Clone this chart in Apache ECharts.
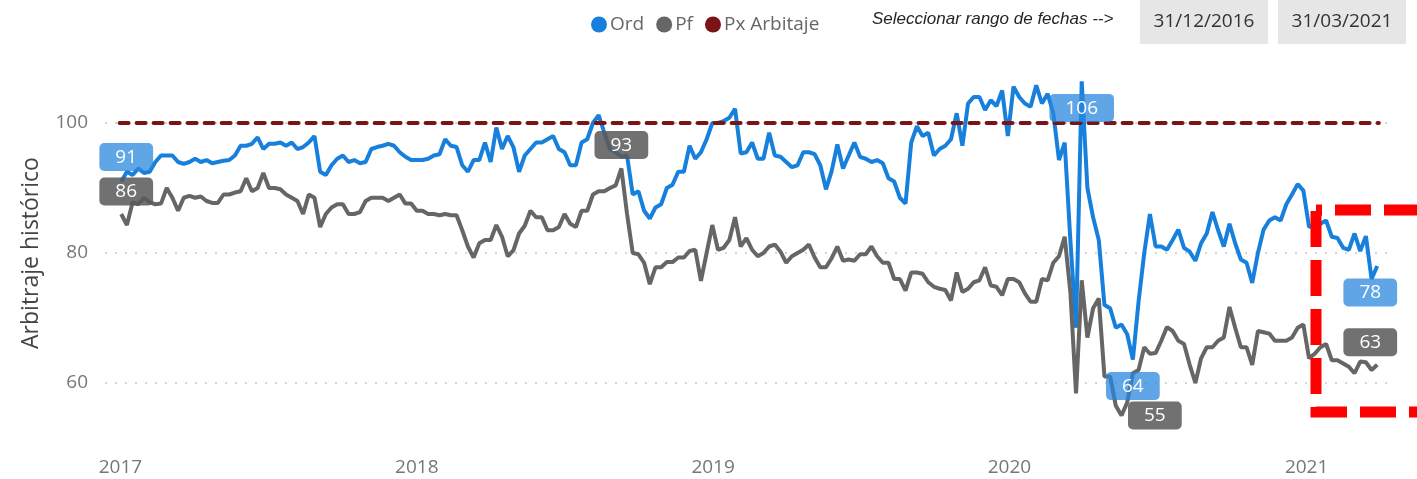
<!DOCTYPE html>
<html>
<head>
<meta charset="utf-8">
<script src="https://cdn.jsdelivr.net/npm/echarts@6/dist/echarts.min.js"></script>
<style>
  html, body { margin: 0; padding: 0; background: #fff; }
  #chart { width: 1417px; height: 479px; }
</style>
</head>
<body>
<div id="chart"></div>
<script>
// weekly readings (Mondays) from 2017-01-02 to 2021-03-29
const weekStart = Date.UTC(2017, 0, 2)

const ordValues = [
  // 2017
  91, 92.5, 92, 93, 92.3, 92.5, 94, 95, 95, 95, 94, 93.7, 94,
  94.5, 94, 94.3, 93.8, 94, 94.2, 94.3, 95, 96.5, 96.5, 96.8, 97.8, 96,
  96.8, 96.8, 97, 96.5, 97, 96, 96.3, 97, 98, 92.5, 92, 93.5, 94.5,
  95, 94, 94.3, 93.8, 94, 96, 96.3, 96.5, 96.8, 96.5, 95.5, 94.8, 94.3,
  // 2018
  94.3, 94.3, 94.5, 95, 95.2, 97.5, 96.5, 96.3, 93.5, 92.5, 94.3, 94.3, 97,
  94, 99.3, 96, 98, 96.3, 92.5, 95, 96, 97, 97, 97.5, 98, 96,
  95.5, 93.5, 93.5, 97, 97.5, 100, 101.2, 98.5, 96, 95.5, 94.8, 95, 89,
  89.5, 86.5, 85.3, 87, 87.5, 90, 90.5, 92.5, 92.5, 96.5, 94.5, 95.5, 97.5, 100,
  // 2019
  100, 100.3, 100.8, 102.2, 95.3, 95.5, 97, 94.5, 94.5, 98.5, 95, 94.8,
  94, 93.2, 93.5, 95.5, 95.5, 95.2, 93.5, 89.8, 92.6, 96.7, 93, 95, 97,
  94.8, 94.5, 94, 94.3, 93.8, 91.5, 91, 88.5, 87.6, 97, 99.5, 98, 98.5, 95,
  96, 96.5, 97.5, 101.5, 96.5, 103, 104, 104, 102, 103.5, 102.6, 105, 98,
  // 2020
  105.6, 104, 103, 102.5, 105.8, 103, 104.5, 101.5, 94.3, 97, 82, 68.5, 106.4,
  90, 85.5, 82, 72, 71.5, 68.5, 69, 67.5, 63.6, 72.5, 80, 86, 81,
  81, 80.5, 82, 83.6, 80.8, 80.2, 78.8, 81.5, 83, 86.3, 83.5, 81, 84.5,
  81.5, 79, 78.5, 75.4, 80, 83.6, 85, 85.5, 85, 87.5, 89, 90.6, 89.6,
  // 2021
  84, 84.3, 84.5, 85, 82.5, 82.3, 80.8, 80.5, 83, 80.3, 82.6, 76, 78
]

const pfValues = [
  // 2017
  86, 84.3, 87.8, 87.5, 88.5, 87.8, 87.5, 87.6, 90, 88.5, 86.5, 88.5, 88.8,
  88.5, 88.7, 88, 87.7, 87.7, 89, 89, 89.3, 89.5, 91.5, 89.5, 90, 92.3,
  90, 90, 89.8, 89, 88.5, 88, 86, 89, 88.5, 84, 86, 87, 87.5,
  87.5, 86, 86, 86.3, 88, 88.5, 88.5, 88.5, 88, 88.5, 89, 87.6, 87.6,
  // 2018
  86.5, 86.5, 86, 86, 85.8, 86, 85.8, 85.8, 83.5, 81, 79.3, 81.5, 82,
  82, 84.3, 82.5, 79.5, 80.4, 83, 84.2, 86.5, 85.5, 85.5, 83.5, 83.5, 84,
  86, 84.5, 84, 86.5, 86.5, 89, 89.5, 89.5, 90, 90.4, 93, 86, 80,
  79.8, 78.5, 75.2, 77.8, 77.8, 78.6, 78.6, 79.3, 79.3, 80.3, 80.5, 75.7, 80, 84.3,
  // 2019
  80.5, 80.8, 82, 85.5, 81, 82.3, 80.5, 79.5, 80, 81, 81.3, 80.2,
  78.5, 79.5, 80, 80.5, 81.3, 79.3, 77.8, 77.8, 79.2, 81, 78.8, 79, 78.8,
  79.8, 79.8, 81, 79.5, 78.5, 78.5, 76, 76, 74.2, 77, 77, 76.8, 75.5, 74.8,
  74.5, 74.3, 72.7, 77, 74, 74.5, 75.5, 75.8, 77.8, 75, 74.8, 73.5, 76,
  // 2020
  76, 75.5, 73.8, 72.5, 72.5, 76, 75.8, 78.5, 79.5, 82.5, 74, 58.4, 75.8,
  67, 71.5, 73, 61, 61, 56.5, 55, 57, 61.5, 62, 65.5, 64.5, 64.6,
  66.5, 68.6, 68, 66.5, 66, 62.8, 60, 63.8, 65.5, 65.5, 66.5, 67, 71.7,
  68.5, 65.5, 65.5, 62.8, 68, 67.8, 67.6, 66.5, 66.5, 66.5, 67, 68.5, 69,
  // 2021
  63.8, 64.5, 65.5, 66, 63.5, 63.5, 63, 62.5, 61.5, 63.3, 63.2, 62, 62.8
]

const pxDates = ['2016-12-31', '2021-03-31']
const pxValues = [100, 100]

const dateRange = ['31/12/2016', '31/03/2021']

const weekDates = ordValues.map((_, i) => weekStart + i * 7 * 86400000)

const FONT = "'Segoe UI', 'Open Sans', sans-serif"
const ORD_COLOR = '#1780dc'
const PF_COLOR = '#666666'
const PX_COLOR = '#7a1416'

// first / last / max / min labels, placed like the original report
function pointLabels(values, places) {
  const n = values.length
  const idx = {
    first: 0,
    last: n - 1,
    max: values.indexOf(Math.max(...values)),
    min: values.indexOf(Math.min(...values))
  }
  return Object.keys(places).map(k => ({
    coord: [weekDates[idx[k]], values[idx[k]]],
    value: Math.round(values[idx[k]]),
    label: places[k]
  }))
}

function labelStyle(bg) {
  return {
    show: true,
    formatter: '{c}',
    color: '#fff',
    fontSize: 19,
    fontFamily: FONT,
    backgroundColor: bg,
    borderRadius: 5,
    padding: [5, 16, 4, 16]
  }
}

const chart = echarts.init(document.getElementById('chart'))

const option = {
  useUTC: true,
  animation: false,
  textStyle: { fontFamily: FONT },
  legend: {
    left: 586,
    top: 10,
    icon: 'circle',
    itemWidth: 16,
    itemHeight: 16,
    itemGap: 12,
    textStyle: { color: '#666', fontSize: 19, fontFamily: FONT, padding: [0, 0, 0, -2] },
    data: ['Ord', 'Pf', 'Px Arbitaje']
  },
  grid: { left: 105, right: 30, top: 58, bottom: 31 },
  xAxis: {
    type: 'time',
    min: Date.UTC(2016, 11, 13),
    max: Date.UTC(2021, 3, 10),
    axisLine: { show: false },
    axisTick: { show: false },
    splitLine: { show: false },
    axisLabel: {
      color: '#777',
      fontSize: 19,
      margin: 10,
      formatter: v => {
        const d = new Date(v)
        return (d.getUTCMonth() === 0 && d.getUTCDate() === 1) ? String(d.getUTCFullYear()) : ''
      }
    }
  },
  yAxis: {
    type: 'value',
    min: 50,
    max: 110,
    interval: 10,
    name: 'Arbitraje histórico',
    nameLocation: 'middle',
    nameGap: 62,
    nameTextStyle: { color: '#444', fontSize: 23, fontFamily: FONT },
    axisLine: { show: false },
    axisTick: { show: false },
    axisLabel: {
      color: '#777',
      fontSize: 19,
      margin: 17,
      formatter: v => (v % 20 === 0 ? String(v) : '')
    },
    splitLine: {
      show: true,
      showMinLine: false,
      showMaxLine: false,
      lineStyle: { color: ['#c8c8c8', 'rgba(0,0,0,0)'], type: [2, 8], width: 1.5 }
    }
  },
  graphic: [
    {
      type: 'text', left: 872, top: 11,
      style: { text: 'Seleccionar rango de fechas -->', fill: '#252525', font: 'italic 17px "Liberation Sans", Arial, sans-serif' }
    },
    { type: 'rect', shape: { x: 1140, y: 0, width: 128, height: 44 }, style: { fill: '#e6e6e6' } },
    {
      type: 'text', x: 1204, y: 22,
      style: { text: dateRange[0], fill: '#333', font: '19px ' + FONT, align: 'center', verticalAlign: 'middle' }
    },
    { type: 'rect', shape: { x: 1278, y: 0, width: 128, height: 44 }, style: { fill: '#e6e6e6' } },
    {
      type: 'text', x: 1342, y: 22,
      style: { text: dateRange[1], fill: '#333', font: '19px ' + FONT, align: 'center', verticalAlign: 'middle' }
    },
    {
      type: 'rect', z: 100,
      shape: { x: 1316, y: 210, width: 120, height: 202 },
      style: { fill: 'none', stroke: '#ff0000', lineWidth: 11, lineDash: [36, 13], lineDashOffset: 30 }
    }
  ],
  series: [
    {
      name: 'Ord',
      type: 'line',
      data: weekDates.map((d, i) => [d, ordValues[i]]),
      showSymbol: false,
      color: ORD_COLOR,
      lineStyle: { width: 4, color: ORD_COLOR },
      z: 2,
      markPoint: {
        symbol: 'circle',
        symbolSize: 1,
        itemStyle: { color: 'rgba(0,0,0,0)' },
        label: labelStyle('rgba(40,135,222,0.74)'),
        data: pointLabels(ordValues, {
          first: { position: 'top', distance: 10, offset: [5, 0] },
          max: { position: 'bottom', distance: 12 },
          min: { position: 'bottom', distance: 12 },
          last: { position: 'bottom', distance: 12, offset: [-7, 0] }
        })
      }
    },
    {
      name: 'Pf',
      type: 'line',
      data: weekDates.map((d, i) => [d, pfValues[i]]),
      showSymbol: false,
      color: PF_COLOR,
      lineStyle: { width: 4, color: PF_COLOR },
      z: 3,
      markPoint: {
        symbol: 'circle',
        symbolSize: 1,
        itemStyle: { color: 'rgba(0,0,0,0)' },
        label: labelStyle('rgba(90,90,90,0.86)'),
        data: pointLabels(pfValues, {
          first: { position: 'top', distance: 8, offset: [5, 0] },
          max: { position: 'top', distance: 9 },
          min: { position: 'right', distance: 6 },
          last: { position: 'top', distance: 8, offset: [-7, 0] }
        })
      }
    },
    {
      name: 'Px Arbitaje',
      type: 'line',
      data: pxDates.map((d, i) => [d, pxValues[i]]),
      showSymbol: false,
      color: PX_COLOR,
      lineStyle: { width: 4, color: PX_COLOR, type: [9, 8], cap: 'round' },
      z: 4
    }
  ]
}

chart.setOption(option)
window.addEventListener('resize', () => chart.resize())
</script>
</body>
</html>
